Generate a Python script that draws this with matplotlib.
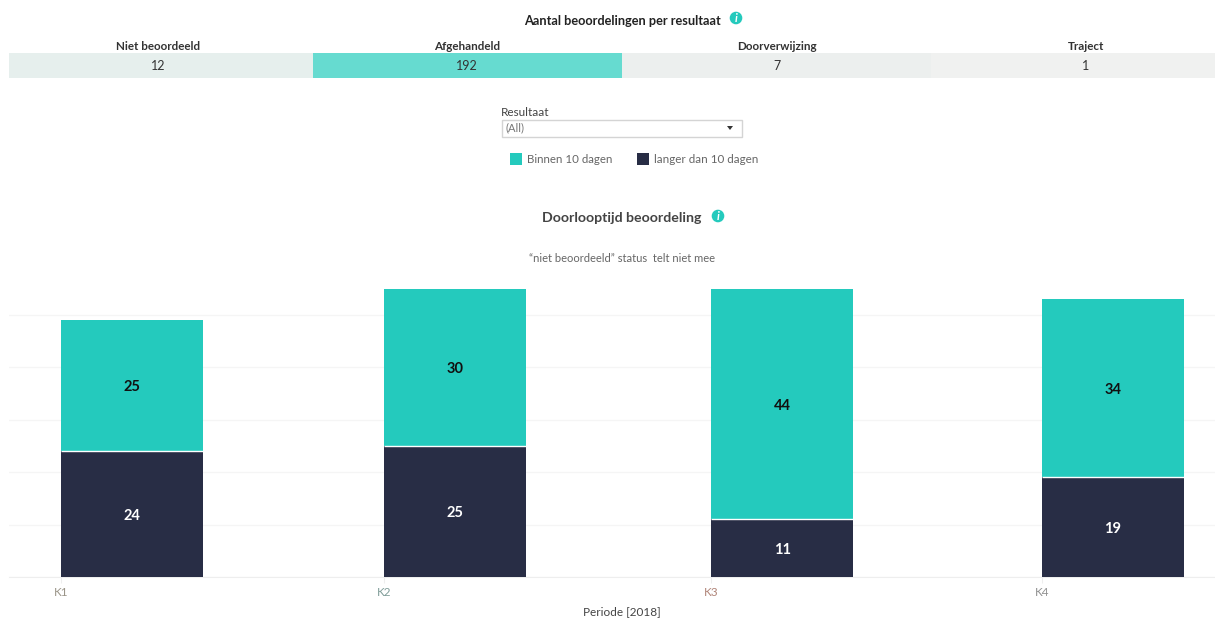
import matplotlib
matplotlib.use('Agg')
import matplotlib.pyplot as plt
from matplotlib.patches import Rectangle, Circle, Polygon

plt.rcParams['font.family'] = ['Lato', 'DejaVu Sans']

W, H = 1215, 619

# top table
resultaat = ['Niet beoordeeld', 'Afgehandeld', 'Doorverwijzing', 'Traject']
aantal = [12, 192, 7, 1]
cell_colors = ['#E6EFED', '#66DBD0', '#ECEFEE', '#F0F1F0']

# stacked bars, x is days since start of 2018
kwartaal = ['K1', 'K2', 'K3', 'K4']
kwartaal_colors = ['#9A9488', '#7F9C98', '#B08478', '#8F8F8F']
start_dag = [0, 90, 181, 273]
langer = [24, 25, 11, 19]
binnen = [25, 30, 44, 34]
legend_labels = ['Binnen 10 dagen', 'langer dan 10 dagen']

TEAL = '#24CABD'
NAVY = '#282D45'
DARK = '#333333'
GREY = '#666666'


def px_axes(fig, x0, y0, x1, y1):
    # axes from pixel box, y measured from the top
    return fig.add_axes([x0 / W, 1 - y1 / H, (x1 - x0) / W, (y1 - y0) / H])


def ftext(fig, x, y, s, **kw):
    kw.setdefault('ha', 'center')
    kw.setdefault('va', 'center')
    return fig.text(x / W, 1 - y / H, s, **kw)


def info_icon(overlay, x, y):
    overlay.add_patch(Circle((x, y), 6.3, color=TEAL, lw=0))
    overlay.text(x, y, 'i', color='white', fontsize=8.5, fontweight='bold',
                 fontstyle='italic', ha='center', va='center')


fig = plt.figure(figsize=(W / 100, H / 100), dpi=100)

# overlay in pixel coordinates for the dashboard furniture
overlay = fig.add_axes([0, 0, 1, 1])
overlay.set_xlim(0, W)
overlay.set_ylim(H, 0)
overlay.axis('off')

# table of counts
ax_top = px_axes(fig, 9, 53, 1215, 78)
ax_top.bar(range(len(aantal)), [1] * len(aantal), width=1, color=cell_colors, linewidth=0)
ax_top.set_xlim(-0.4817, 3.417)
ax_top.set_ylim(0, 1)
ax_top.axis('off')
for i, (naam, n) in enumerate(zip(resultaat, aantal)):
    ax_top.text(i, 0.5, str(n), ha='center', va='center', fontsize=9, color=DARK)
    ax_top.annotate(naam, (i, 1), xytext=(0, 7), textcoords='offset pixels',
                    ha='center', va='center', fontsize=8.4, fontweight='bold', color=DARK,
                    annotation_clip=False)

ftext(fig, 622, 21, 'Aantal beoordelingen per resultaat', fontsize=9.2, fontweight='bold', color='#222222')
info_icon(overlay, 736, 18)

# filter control
ftext(fig, 501, 112, 'Resultaat', ha='left', fontsize=8.5, color='#444444')
overlay.add_patch(Rectangle((502, 119.5), 240, 17, fc='white', ec='#D4D4D4', lw=1))
ftext(fig, 505, 128, '(All)', ha='left', fontsize=8, color='#777777')
overlay.add_patch(Polygon([(727, 126), (733, 126), (730, 130)], color='#333333', lw=0))

# legend
overlay.add_patch(Rectangle((510, 153), 12, 12, color=TEAL, lw=0))
ftext(fig, 527, 159.5, legend_labels[0], ha='left', fontsize=8.3, color=GREY)
overlay.add_patch(Rectangle((637, 153), 12, 12, color=NAVY, lw=0))
ftext(fig, 654, 159.5, legend_labels[1], ha='left', fontsize=8.4, color=GREY)

# chart titles
ftext(fig, 622, 218.5, 'Doorlooptijd beoordeling', fontsize=10.2, fontweight='bold', color='#444444')
info_icon(overlay, 718, 216)
ftext(fig, 622, 259, '\u201cniet beoordeeld\u201d status  telt niet mee', fontsize=8, color=GREY)

# stacked bars
ax = px_axes(fig, 9, 289, 1215, 577)
ax.patch.set_alpha(0)
bar_w = 142 / 3.593
ax.bar(start_dag, langer, width=bar_w, align='edge', color=NAVY, linewidth=0, zorder=3)
ax.bar(start_dag, binnen, width=bar_w, align='edge', bottom=langer, color=TEAL, linewidth=0, zorder=3)
for d, a, b in zip(start_dag, langer, binnen):
    ax.plot([d, d + bar_w], [a, a], color='white', lw=1, zorder=4, solid_capstyle='butt')
    ax.annotate(str(a), (d + bar_w / 2, a / 2), xytext=(0, -1.5), textcoords='offset pixels',
                ha='center', va='center', color='white', fontsize=10.5, fontweight='bold', zorder=5)
    ax.annotate(str(b), (d + bar_w / 2, a + b / 2), xytext=(0, -1.5), textcoords='offset pixels',
                ha='center', va='center', color='#111111', fontsize=10.5, fontweight='bold', zorder=5)

ax.set_xlim(-52 / 3.593, (1215 - 61) / 3.593)
ax.set_ylim(0, 288 / 5.24)
ax.set_yticks([0, 10, 20, 30, 40, 50])
ax.tick_params(axis='y', length=0, labelleft=False)
ax.grid(axis='y', color='#F5F5F5', lw=1, zorder=0)
ax.set_xticks(start_dag)
ax.set_xticklabels(kwartaal, fontsize=8.5, ha='right')
ax.tick_params(axis='x', length=4, color='#EEEEEE', pad=3)
for lab, c in zip(ax.get_xticklabels(), kwartaal_colors):
    lab.set_color(c)
    lab.set_ha('center')
for side in ['top', 'right', 'left']:
    ax.spines[side].set_visible(False)
ax.spines['bottom'].set_color('#EEEEEE')
ftext(fig, 622, 612, 'Periode [2018]', fontsize=8.5, color='#444444')

fig.savefig('out.png', dpi=100, facecolor='white')
